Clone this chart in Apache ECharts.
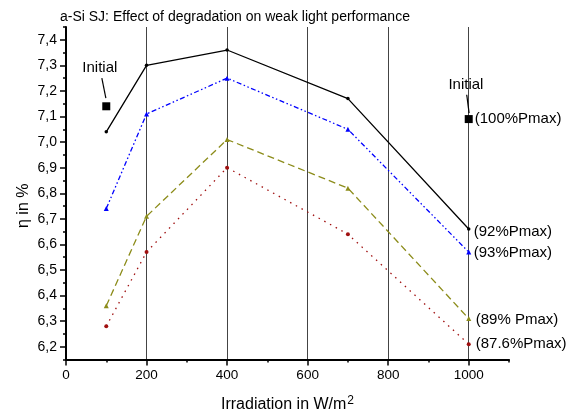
<!DOCTYPE html>
<html>
<head>
<meta charset="utf-8">
<script src="https://cdn.jsdelivr.net/npm/echarts@6/dist/echarts.min.js"></script>
<style>html,body{margin:0;padding:0;background:#fff;}#c{width:579px;height:418px;}</style>
</head>
<body>
<div id="c"></div>
<script>
const xValues = [100, 200, 400, 700, 1000];
const eta92 = [7.04, 7.30, 7.36, 7.17, 6.66];
const eta93 = [6.74, 7.11, 7.25, 7.05, 6.57];
const eta89 = [6.36, 6.71, 7.01, 6.82, 6.31];
const eta876 = [6.28, 6.57, 6.90, 6.64, 6.21];
const endLabels = ['(92%Pmax)', '(93%Pmax)', '(89% Pmax)', '(87.6%Pmax)'];
const initialX = [100, 1000];
const initialY = [7.14, 7.09];
const initialLabels = ['', '(100%Pmax)'];
const annotText = 'Initial';
const annotTextPos = [[84, 7.29], [993, 7.225]];
const annotArrows = [[[89, 7.25], [99, 7.172]], [[995, 7.185], [1001, 7.113]]];
const xTickLabels = ['0', '200', '400', '600', '800', '1000'];
const yTickLabels = ['6,2', '6,3', '6,4', '6,5', '6,6', '6,7', '6,8', '6,9', '7,0', '7,1', '7,2', '7,3', '7,4'];

const FONT = 'Liberation Sans, Arial, sans-serif';
const xMin = 0, xMax = 1100, xStep = 100;
const yMin = 6.15, yMax = 7.45, yStep = 0.05;

// category helper axes for major ticks / labels
const xCats = [];
for (let v = xMin; v <= xMax; v += xStep) xCats.push(String(v));
const yCats = [];
for (let i = 0; i <= Math.round((yMax - yMin) / yStep); i++) yCats.push((yMin + i * yStep).toFixed(2));
const xMajor = (i) => i % 2 === 0 && i / 2 < xTickLabels.length;
const yMajor = (i) => i % 2 === 1 && (i - 1) / 2 < yTickLabels.length;

const chart = echarts.init(document.getElementById('c'), null, {renderer: 'canvas'});

function lineSeries(vals, color, dash, symbol, size, label, offX, offY) {
  return {
    type: 'line',
    xAxisIndex: 0, yAxisIndex: 0,
    data: xValues.map((x, i) => [x, vals[i]]),
    symbol: symbol, symbolSize: size, showSymbol: true,
    lineStyle: {color: color, width: 1.3, type: dash},
    itemStyle: {color: color},
    endLabel: {show: true, formatter: label, color: '#000', fontSize: 15, fontFamily: FONT, offset: [offX, offY], distance: 4},
    emphasis: {disabled: true},
    z: 5
  };
}

chart.setOption({
  animation: false,
  backgroundColor: '#fff',
  title: {
    text: 'a-Si SJ: Effect of degradation on weak light performance',
    left: 60, top: 10, padding: 0,
    textStyle: {fontSize: 14, fontWeight: 'normal', color: '#000', fontFamily: FONT}
  },
  grid: {left: 66, right: 70, top: 27, bottom: 58},
  xAxis: [
    {
      type: 'value', min: xMin, max: xMax, interval: xStep, position: 'bottom',
      axisLine: {show: true, onZero: false, lineStyle: {color: '#000', width: 2}},
      axisTick: {show: true, length: 3, lineStyle: {color: '#000', width: 1.5}},
      axisLabel: {show: false},
      splitLine: {show: false},
      name: 'Irradiation in W/m{sup|2}', nameLocation: 'middle', nameGap: 35,
      nameTextStyle: {fontSize: 16, color: '#000', fontFamily: FONT,
        rich: {sup: {fontSize: 12, verticalAlign: 'bottom', padding: [0, 0, 9, 1], fontFamily: FONT, color: '#000'}}}
    },
    {
      type: 'category', data: xCats, boundaryGap: false, position: 'bottom',
      axisLine: {show: false},
      axisTick: {show: true, length: 6, interval: (i) => xMajor(i), lineStyle: {color: '#000', width: 1.5}},
      axisLabel: {show: true, interval: (i) => xMajor(i), formatter: (v, i) => xTickLabels[i / 2] || '',
        fontSize: 13.5, color: '#000', fontFamily: FONT, margin: 9},
      splitLine: {show: true, interval: (i) => xMajor(i) && i > 0, lineStyle: {color: '#444', width: 1}}
    }
  ],
  yAxis: [
    {
      type: 'value', min: yMin, max: yMax, interval: yStep, position: 'left',
      axisLine: {show: true, onZero: false, lineStyle: {color: '#000', width: 2}},
      axisTick: {show: true, length: 3, lineStyle: {color: '#000', width: 1.5}},
      axisLabel: {show: false},
      splitLine: {show: false},
      name: 'η in %', nameLocation: 'middle', nameGap: 34, nameRotate: 90,
      nameTextStyle: {fontSize: 16, color: '#000', fontFamily: FONT, padding: [0, 25, 0, 0]}
    },
    {
      type: 'category', data: yCats, boundaryGap: false, position: 'left',
      axisLine: {show: false},
      axisTick: {show: true, length: 6, interval: (i) => yMajor(i), lineStyle: {color: '#000', width: 1.5}},
      axisLabel: {show: true, interval: (i) => yMajor(i), formatter: (v, i) => yTickLabels[(i - 1) / 2] || '',
        fontSize: 14, color: '#000', fontFamily: FONT, margin: 9},
      splitLine: {show: false}
    }
  ],
  series: [
    lineSeries(eta92, '#000000', 'solid', 'circle', 3.5, endLabels[0], 1, 3),
    lineSeries(eta93, '#0000ff', [5, 2.5, 1.5, 2.5, 1.5, 2.5], 'triangle', 5, endLabels[1], 1, 1),
    lineSeries(eta89, '#8c8c1a', [7, 4], 'triangle', 5, endLabels[2], 3, 1),
    lineSeries(eta876, '#a01010', [1.5, 5], 'circle', 4, endLabels[3], 3, 0),
    {
      type: 'scatter', xAxisIndex: 0, yAxisIndex: 0,
      data: initialX.map((x, i) => ({
        value: [x, initialY[i]],
        label: {show: initialLabels[i] !== '', formatter: initialLabels[i], position: 'right', distance: 2,
          color: '#000', fontSize: 15, fontFamily: FONT, textBorderWidth: 0}
      })),
      symbol: 'rect', symbolSize: 8, itemStyle: {color: '#000', opacity: 1},
      emphasis: {disabled: true},
      markLine: {
        silent: true, symbol: ['none', 'arrow'], symbolSize: [0, 6],
        lineStyle: {color: '#000', width: 1.2, type: 'solid', opacity: 1},
        label: {show: false},
        emphasis: {disabled: true},
        data: annotArrows.map(a => [{coord: a[0]}, {coord: a[1]}])
      },
      z: 6
    },
    {
      type: 'scatter', xAxisIndex: 0, yAxisIndex: 0,
      data: annotTextPos,
      symbol: 'circle', symbolSize: 0, itemStyle: {color: '#ffffff', opacity: 1},
      label: {show: true, formatter: annotText, position: 'inside', color: '#000000', opacity: 1,
        fontSize: 15, fontFamily: FONT, textBorderWidth: 0},
      emphasis: {disabled: true},
      z: 6
    }
  ]
});
</script>
</body>
</html>
